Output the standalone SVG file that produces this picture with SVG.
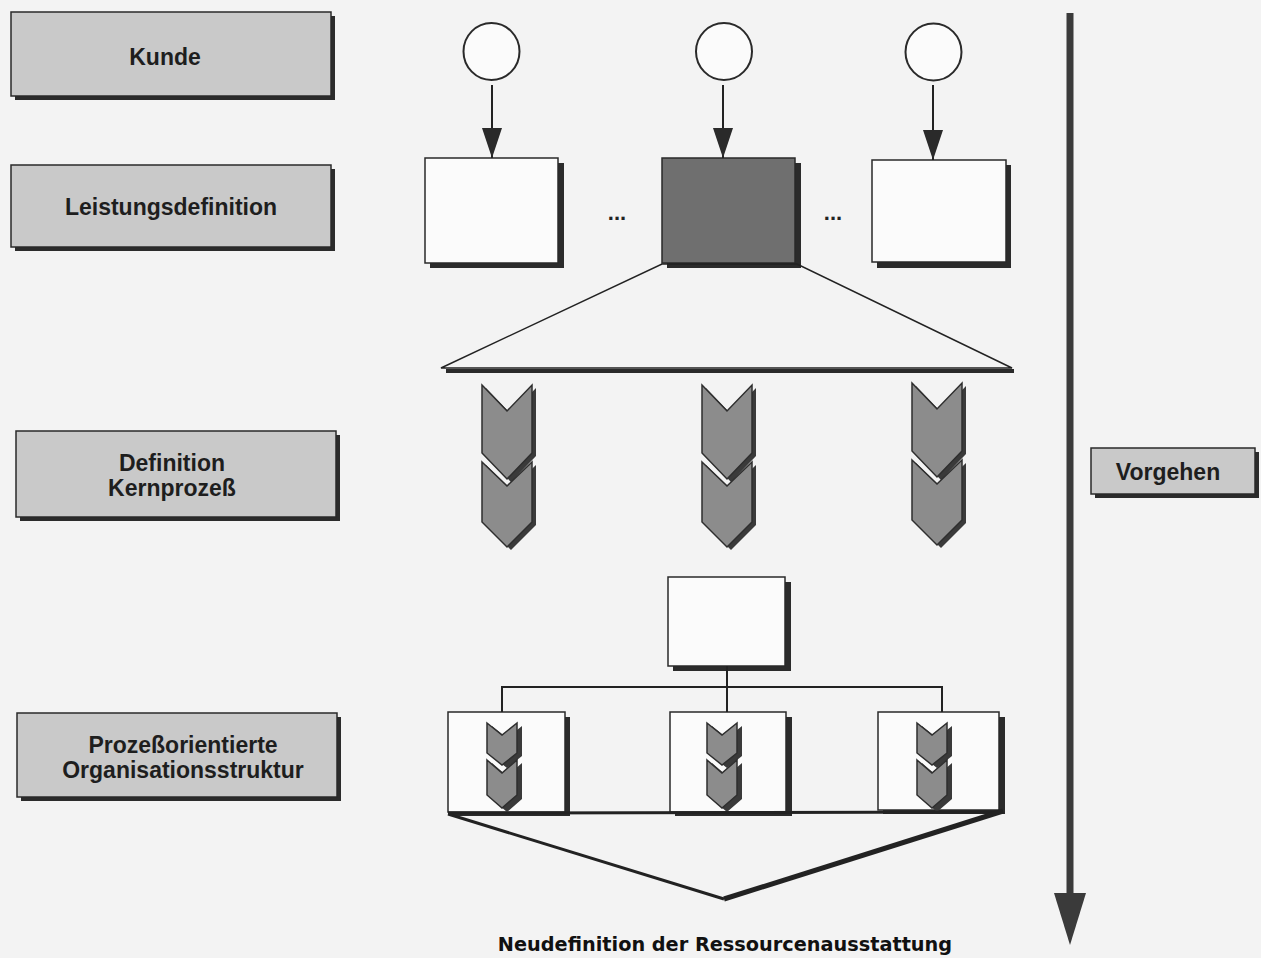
<svg xmlns="http://www.w3.org/2000/svg" width="1261" height="958" viewBox="0 0 1261 958">
<defs>
<style>
.lbl{font-family:"Liberation Sans",Arial,sans-serif;font-weight:bold;font-size:23px;fill:#1e1e1e;text-anchor:middle}
.gbox{fill:#c9c9c9;stroke:#2a2a2a;stroke-width:1.5}
.wbox{fill:#fbfbfb;stroke:#2a2a2a;stroke-width:1.5}
.dbox{fill:#6f6f6f;stroke:#2a2a2a;stroke-width:1.5}
.shd{fill:#2b2b2b}
.ln{stroke:#222;stroke-width:2;fill:none}
.chev{fill:#8c8c8c;stroke:#2e2e2e;stroke-width:1.5;stroke-linejoin:miter}
.chsh{fill:#3a3a3a}
.dots{font-family:"Liberation Sans",Arial,sans-serif;font-weight:bold;font-size:22px;fill:#222;text-anchor:middle}
</style>
<marker id="ah" markerWidth="30" markerHeight="20" refX="30" refY="10" orient="auto" markerUnits="userSpaceOnUse" viewBox="0 0 30 20">
<path d="M0,0 L30,10 L0,20 Z" fill="#2a2a2a"/>
</marker>
<g id="bigchev">
<path class="chsh" d="M4,3 L29,29 L54,3 L54,71 L29,97 L4,71 Z"/>
<path class="chsh" d="M4,80 L29,104 L54,80 L54,140 L29,165 L4,140 Z"/>
<path class="chev" d="M0,0 L25,26 L50,0 L50,68 L25,94 L0,68 Z"/>
<path class="chev" d="M0,77 L25,101 L50,77 L50,137 L25,162 L0,137 Z"/>
</g>
<g id="smallchev">
<path class="chsh" d="M5,3 L20,15 L35,3 L35,33 L20,45 L5,33 Z"/>
<path class="chsh" d="M5,40 L20,53 L35,40 L35,76 L20,89 L5,76 Z"/>
<path class="chev" d="M0,0 L15,12 L30,0 L30,30 L15,42 L0,30 Z"/>
<path class="chev" d="M0,37 L15,50 L30,37 L30,72 L15,85 L0,72 Z"/>
</g>
</defs>
<rect x="0" y="0" width="1261" height="958" fill="#f3f3f3"/>

<g id="kunde">
<rect class="shd" x="15" y="16" width="320" height="84"/>
<rect class="gbox" x="11" y="12" width="320" height="84"/>
<text class="lbl" x="165" y="65">Kunde</text>
</g>
<g id="leistungsdefinition">
<rect class="shd" x="15" y="169" width="320" height="82"/>
<rect class="gbox" x="11" y="165" width="320" height="82"/>
<text class="lbl" x="171" y="215">Leistungsdefinition</text>
</g>
<g id="definition-kernprozess">
<rect class="shd" x="20" y="435" width="320" height="86"/>
<rect class="gbox" x="16" y="431" width="320" height="86"/>
<text class="lbl" x="172" y="471">Definition</text>
<text class="lbl" x="172" y="496">Kernprozeß</text>
</g>
<g id="prozessorientierte">
<rect class="shd" x="21" y="717" width="320" height="84"/>
<rect class="gbox" x="17" y="713" width="320" height="84"/>
<text class="lbl" x="183" y="753">Prozeßorientierte</text>
<text class="lbl" x="183" y="778">Organisationsstruktur</text>
</g>

<g id="vorgehen-arrow">
<line x1="1070" y1="13" x2="1070" y2="900" stroke="#3a3a3a" stroke-width="7"/>
<path d="M1054,893 L1086,893 L1070,945 Z" fill="#3a3a3a"/>
</g>
<g id="vorgehen">
<rect class="shd" x="1095" y="452" width="164" height="46"/>
<rect class="gbox" x="1091" y="448" width="164" height="46"/>
<text class="lbl" x="1168" y="480">Vorgehen</text>
</g>

<g id="kunde1"><ellipse cx="491.5" cy="51.5" rx="28" ry="28.5" fill="#fbfbfb" stroke="#2a2a2a" stroke-width="2"/></g>
<g id="kunde2"><ellipse cx="724" cy="51.5" rx="28" ry="28.5" fill="#fbfbfb" stroke="#2a2a2a" stroke-width="2"/></g>
<g id="kunde3"><ellipse cx="933.5" cy="52" rx="28" ry="28.5" fill="#fbfbfb" stroke="#2a2a2a" stroke-width="2"/></g>

<g id="leistung1">
<rect class="shd" x="430" y="163" width="134" height="105"/>
<rect class="wbox" x="425" y="158" width="133" height="105"/>
</g>
<g id="leistung2">
<rect class="shd" x="667" y="163" width="134" height="105"/>
<rect class="dbox" x="662" y="158" width="133" height="105"/>
</g>
<g id="leistung3">
<rect class="shd" x="877" y="165" width="134" height="103"/>
<rect class="wbox" x="872" y="160" width="134" height="102"/>
</g>
<text class="dots" x="617" y="220">...</text>
<text class="dots" x="833" y="220">...</text>

<g id="kernprozess-fan">
<line x1="446" y1="371" x2="1014" y2="371" stroke="#2a2a2a" stroke-width="4"/>
<polygon points="662,264 797,264 1012,368 441,368" fill="none" stroke="#222" stroke-width="1.5"/>
</g>

<g id="chevrons-row">
<use href="#bigchev" x="482" y="385"/>
<use href="#bigchev" x="702" y="385"/>
<use href="#bigchev" x="912" y="383"/>
</g>

<g id="kernprozess-box">
<rect class="shd" x="673" y="582" width="118" height="89"/>
<rect class="wbox" x="668" y="577" width="117" height="89"/>
</g>

<g id="org-a">
<rect class="shd" x="453" y="717" width="117" height="99"/>
<rect class="wbox" x="448" y="712" width="117" height="100"/>
<use href="#smallchev" x="487" y="723"/>
</g>
<g id="org-b">
<rect class="shd" x="675" y="717" width="117" height="99"/>
<rect class="wbox" x="670" y="712" width="116" height="100"/>
<use href="#smallchev" x="707" y="723"/>
</g>
<g id="org-c">
<rect class="shd" x="883" y="717" width="122" height="97"/>
<rect class="wbox" x="878" y="712" width="121" height="98"/>
<use href="#smallchev" x="917" y="723"/>
</g>

<g id="connectors">
<line class="ln" x1="492" y1="85" x2="492" y2="158" marker-end="url(#ah)"/>
<line class="ln" x1="723" y1="85" x2="723" y2="158" marker-end="url(#ah)"/>
<line class="ln" x1="933" y1="85" x2="933" y2="160" marker-end="url(#ah)"/>
<line class="ln" x1="727" y1="666" x2="727" y2="712"/>
<polyline class="ln" points="502,712 502,687 942,687 942,712"/>
<line x1="448" y1="813" x2="1003" y2="812" stroke="#222" stroke-width="3"/>
<line x1="448" y1="814" x2="724" y2="899" stroke="#222" stroke-width="3"/>
<line x1="724" y1="899" x2="1003" y2="811" stroke="#222" stroke-width="5"/>
</g>

<text x="725" y="951" font-family="'DejaVu Sans',Verdana,sans-serif" font-weight="bold" font-size="19.3" fill="#111" text-anchor="middle">Neudefinition der Ressourcenausstattung</text>
</svg>
